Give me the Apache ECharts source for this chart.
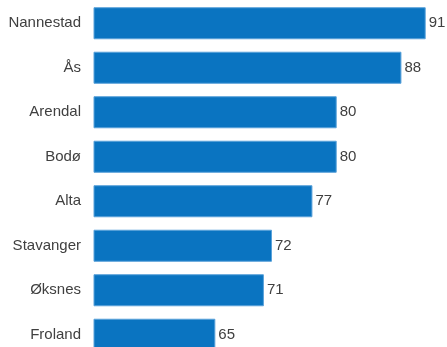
<!DOCTYPE html>
<html>
<head>
<meta charset="utf-8">
<script src="https://cdn.jsdelivr.net/npm/echarts@6/dist/echarts.min.js"></script>
<style>
  html, body { margin: 0; padding: 0; background: #fff; }
  #chart { width: 447px; height: 347px; }
</style>
</head>
<body>
<div id="chart"></div>
<script>
// Municipalities, top to bottom, and their scores
const categories = ['Nannestad', 'Ås', 'Arendal', 'Bodø', 'Alta', 'Stavanger', 'Øksnes', 'Froland'];
const values = [91, 88, 80, 80, 77, 72, 71, 65];

const chart = echarts.init(document.getElementById('chart'), null, { renderer: 'canvas' });

chart.setOption({
  animation: false,
  grid: {
    left: 94, right: 21.3, top: 1, height: 356,
    containLabel: false,
    outerBoundsMode: 'none'
  },
  xAxis: {
    type: 'value',
    min: 50,
    max: 91,
    show: false
  },
  yAxis: {
    type: 'category',
    data: categories,
    inverse: true,
    axisLine: { show: false },
    axisTick: { show: false },
    axisLabel: {
      margin: 13,
      color: '#404040',
      fontSize: 15,
      fontFamily: 'Liberation Sans, Arial, sans-serif'
    }
  },
  series: [{
    type: 'bar',
    data: values,
    barCategoryGap: '28%',
    itemStyle: {
      color: '#0a74c1',
      borderColor: '#5aa2da',
      borderWidth: 1
    },
    label: {
      show: true,
      position: 'right',
      distance: 3,
      color: '#404040',
      fontSize: 15,
      fontFamily: 'Liberation Sans, Arial, sans-serif'
    }
  }]
});
</script>
</body>
</html>
